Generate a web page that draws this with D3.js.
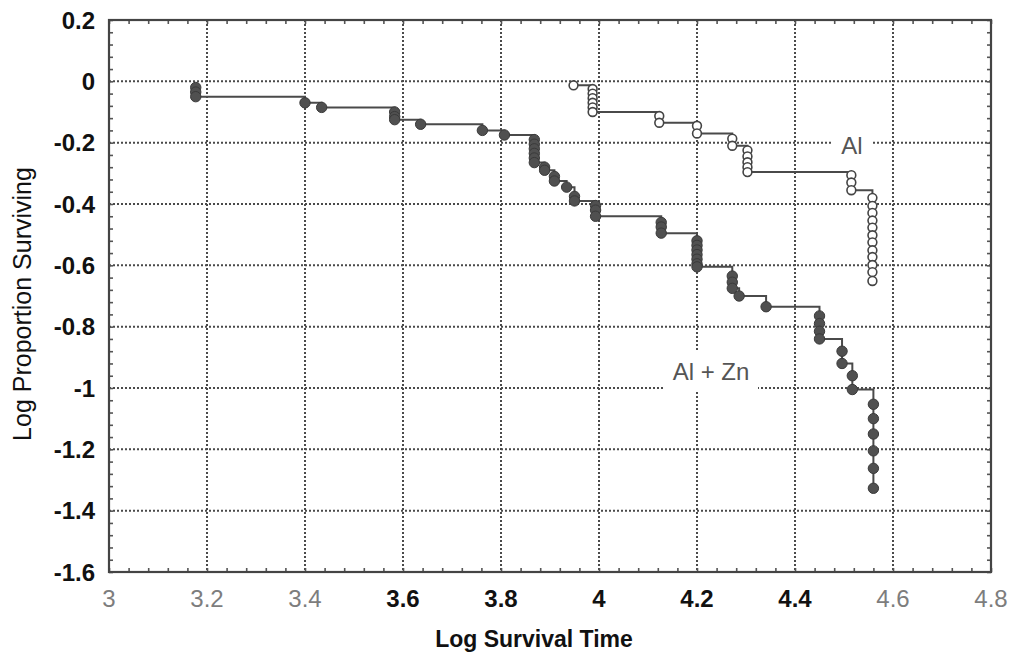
<!DOCTYPE html>
<html>
<head>
<meta charset="utf-8">
<script src="https://cdn.jsdelivr.net/npm/d3@7/dist/d3.min.js"></script>
<style>
  body { margin: 0; background: #fff; }
  text { font-family: "Liberation Sans", Arial, sans-serif; }
</style>
</head>
<body>
<svg id="svg1" width="1014" height="656"></svg>
<script>
// tick values
var xTicks = [3, 3.2, 3.4, 3.6, 3.8, 4, 4.2, 4.4, 4.6, 4.8];
var yTicks = [0.2, 0, -0.2, -0.4, -0.6, -0.8, -1, -1.2, -1.4, -1.6];
var xGrayLabels = [3, 3.2, 3.4, 4.6, 4.8];   // scanned labels that came out light

// Al + Zn series (filled dots), log time and log proportion surviving
var alZnTime = [3.177, 3.177, 3.177, 3.40, 3.434, 3.583, 3.583, 3.583, 3.636, 3.762, 3.807,
  3.868, 3.868, 3.868, 3.868, 3.868, 3.868, 3.889, 3.889, 3.909, 3.909, 3.934, 3.95, 3.95,
  3.993, 3.993, 3.993, 4.127, 4.127, 4.127, 4.20, 4.20, 4.20, 4.20, 4.20, 4.20, 4.20,
  4.272, 4.272, 4.272, 4.286, 4.341, 4.45, 4.45, 4.45, 4.45, 4.496, 4.496, 4.517, 4.517,
  4.56, 4.56, 4.56, 4.56, 4.56, 4.56];
var alZnSurv = [-0.02, -0.035, -0.05, -0.07, -0.085, -0.10, -0.115, -0.125, -0.14, -0.16, -0.175,
  -0.19, -0.205, -0.22, -0.235, -0.25, -0.265, -0.28, -0.29, -0.31, -0.325, -0.345, -0.375, -0.39,
  -0.405, -0.42, -0.44, -0.46, -0.475, -0.495, -0.52, -0.535, -0.55, -0.565, -0.58, -0.595, -0.605,
  -0.635, -0.655, -0.675, -0.70, -0.735, -0.765, -0.79, -0.815, -0.84, -0.88, -0.92, -0.96, -1.005,
  -1.053, -1.10, -1.15, -1.205, -1.262, -1.327];

// Al series (open dots)
var alTime = [3.948, 3.987, 3.987, 3.987, 3.987, 3.987, 3.987, 4.123, 4.123, 4.20, 4.20,
  4.272, 4.272, 4.303, 4.303, 4.303, 4.303, 4.303, 4.515, 4.515, 4.515,
  4.558, 4.558, 4.558, 4.558, 4.558, 4.558, 4.558, 4.558, 4.558, 4.558, 4.558, 4.558];
var alSurv = [-0.013, -0.025, -0.04, -0.055, -0.07, -0.085, -0.10, -0.113, -0.135, -0.145, -0.17,
  -0.187, -0.21, -0.225, -0.245, -0.264, -0.28, -0.296, -0.306, -0.33, -0.355,
  -0.38, -0.406, -0.429, -0.454, -0.477, -0.502, -0.525, -0.551, -0.573, -0.599, -0.622, -0.651];

var svg = d3.select("#svg1");
var plotL = 109, plotR = 991, plotT = 20, plotB = 572;

var x = d3.scaleLinear().domain([3, 4.8]).range([plotL, plotR]);
var y = d3.scaleLinear().domain([0.2, -1.6]).range([plotT, plotB]);

// dotted grid
var grid = svg.append("g")
  .attr("stroke", "#4a4a4a")
  .attr("stroke-width", 2)
  .attr("stroke-dasharray", "2,2");
grid.selectAll("line.v")
  .data(xTicks.slice(1, -1))
  .enter().append("line")
  .attr("x1", function(d) { return x(d); })
  .attr("x2", function(d) { return x(d); })
  .attr("y1", plotT).attr("y2", plotB);
grid.selectAll("line.h")
  .data(yTicks.slice(1, -1))
  .enter().append("line")
  .attr("x1", plotL).attr("x2", plotR)
  .attr("y1", function(d) { return y(d); })
  .attr("y2", function(d) { return y(d); });

// white boxes behind the series labels hide the grid there
svg.append("rect").attr("x", 665).attr("y", 352).attr("width", 93).attr("height", 38).attr("fill", "#fff");
svg.append("rect").attr("x", 833).attr("y", 128).attr("width", 39).attr("height", 27).attr("fill", "#fff");

// minor ticks on all four sides, pointing in
var minorX = d3.range(0, 46).map(function(i) { return 3 + i * 0.04; });
var minorY = d3.range(0, 46).map(function(i) { return 0.2 - i * 0.04; });
svg.append("g").call(d3.axisBottom(x).tickValues(minorX).tickSize(-4).tickFormat(""))
  .attr("transform", "translate(0," + plotB + ")");
svg.append("g").call(d3.axisTop(x).tickValues(minorX).tickSize(-4).tickFormat(""))
  .attr("transform", "translate(0," + plotT + ")");
svg.append("g").call(d3.axisLeft(y).tickValues(minorY).tickSize(-4).tickFormat(""))
  .attr("transform", "translate(" + plotL + ",0)");
svg.append("g").call(d3.axisRight(y).tickValues(minorY).tickSize(-4).tickFormat(""))
  .attr("transform", "translate(" + plotR + ",0)");
svg.selectAll(".domain").remove();
svg.selectAll(".tick line").attr("stroke", "#555").attr("stroke-width", 1.6);

// frame
svg.append("rect")
  .attr("x", plotL).attr("y", plotT)
  .attr("width", plotR - plotL).attr("height", plotB - plotT)
  .attr("fill", "none").attr("stroke", "#444").attr("stroke-width", 2.2);

// tick labels
svg.selectAll("text.xl")
  .data(xTicks)
  .enter().append("text")
  .attr("x", function(d) { return x(d); })
  .attr("y", 607)
  .attr("text-anchor", "middle")
  .attr("font-size", 24)
  .attr("font-weight", function(d) { return xGrayLabels.indexOf(d) >= 0 ? "normal" : "bold"; })
  .attr("fill", function(d) { return xGrayLabels.indexOf(d) >= 0 ? "#7d7d7d" : "#111"; })
  .text(function(d) { return d3.format("")(d); });

svg.selectAll("text.yl")
  .data(yTicks)
  .enter().append("text")
  .attr("x", 95)
  .attr("y", function(d) { return y(d); })
  .attr("dy", "0.36em")
  .attr("text-anchor", "end")
  .attr("font-size", 24)
  .attr("font-weight", "bold")
  .attr("fill", "#111")
  .text(function(d) { return d3.format("")(d).replace("\u2212", "-"); });

// axis titles
svg.append("text")
  .attr("x", 534).attr("y", 647)
  .attr("text-anchor", "middle")
  .attr("font-size", 23).attr("font-weight", "bold").attr("fill", "#111")
  .text("Log Survival Time");
svg.append("text")
  .attr("transform", "translate(31,304) rotate(-90)")
  .attr("text-anchor", "middle")
  .attr("font-size", 25).attr("fill", "#111")
  .text("Log Proportion Surviving");

// step lines
var step = d3.line()
  .x(function(d) { return x(d[0]); })
  .y(function(d) { return y(d[1]); })
  .curve(d3.curveStepAfter);

var alZn = d3.zip(alZnTime, alZnSurv);
var al = d3.zip(alTime, alSurv);

svg.append("path").datum(alZn).attr("d", step)
  .attr("fill", "none").attr("stroke", "#4a4a4a").attr("stroke-width", 2);
svg.append("path").datum(al).attr("d", step)
  .attr("fill", "none").attr("stroke", "#4a4a4a").attr("stroke-width", 2);

svg.selectAll("circle.zn")
  .data(alZn)
  .enter().append("circle")
  .attr("cx", function(d) { return x(d[0]); })
  .attr("cy", function(d) { return y(d[1]); })
  .attr("r", 5.2)
  .attr("fill", "#505050").attr("stroke", "#3a3a3a").attr("stroke-width", 1);

svg.selectAll("circle.al")
  .data(al)
  .enter().append("circle")
  .attr("cx", function(d) { return x(d[0]); })
  .attr("cy", function(d) { return y(d[1]); })
  .attr("r", 4.4)
  .attr("fill", "#fff").attr("stroke", "#444").attr("stroke-width", 1.6);

// series labels
svg.append("text").attr("x", 852).attr("y", 154)
  .attr("text-anchor", "middle").attr("font-size", 24).attr("fill", "#555")
  .text("Al");
svg.append("text").attr("x", 711).attr("y", 380)
  .attr("text-anchor", "middle").attr("font-size", 24).attr("fill", "#555")
  .text("Al + Zn");
</script>
</body>
</html>
